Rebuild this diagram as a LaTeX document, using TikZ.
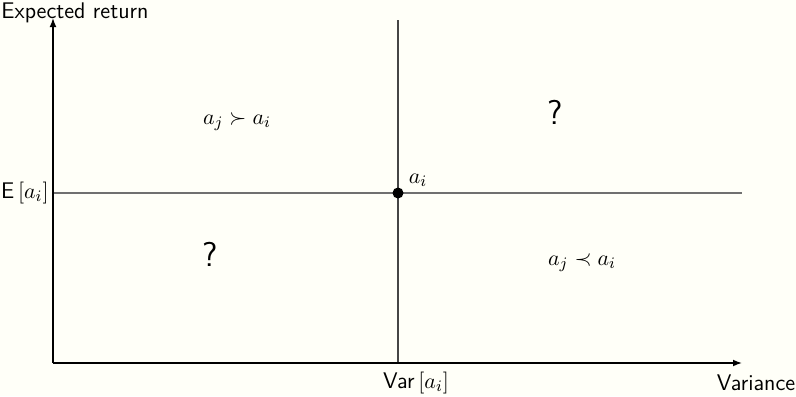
\documentclass[tikz,border=0pt]{standalone}
\usetikzlibrary{arrows.meta}
\definecolor{bgcol}{RGB}{255,255,248}
\definecolor{hgray}{RGB}{112,112,112}
\definecolor{vgray}{RGB}{70,70,70}
\begin{document}
\begin{tikzpicture}[x=0.5pt,y=-0.5pt,
  axis/.style={line width=0.7pt,-{Latex[length=4.5pt,width=3.4pt]}},
  refline/.style={line width=0.7pt},
  lbl/.style={inner sep=0pt,font=\fontsize{11.3}{13.5}\selectfont\sffamily},
  big/.style={inner sep=0pt,font=\sffamily\LARGE}]
\fill[bgcol] (0,0) rectangle (796,396);
\useasboundingbox (0,0) rectangle (796,396);
\coordinate (O) at (53,363);
\coordinate (Ytop) at (53,18);
\coordinate (Xend) at (742,363);
\coordinate (VT) at (398,20);
\coordinate (HL) at (53,193);
\coordinate (HR) at (742,193);
\coordinate (P) at (398,193);
\coordinate (VB) at (398,363);
\draw[refline,hgray] (HL) -- (HR);
\draw[refline,vgray] (VT) -- (VB);
\draw[axis] (O) -- (Ytop);
\draw[axis] (O) -- (Xend);
\fill (P) circle (5.5);
\node[lbl] (ylabel) at (75,13) {Expected return};
\node[lbl] (xlabel) at (756,383) {Variance};
\node[lbl,anchor=east] (elabel) at (49,193) {E\,$\left[a_i\right]$};
\node[lbl] (vlabel) at (416,383) {Var\,$\left[a_i\right]$};
\node[lbl] (ptlabel) at (418,180) {$a_i$};
\node[lbl] (better) at (237,122) {$a_j \succ a_i$};
\node[lbl] (worse) at (582,263) {$a_j \prec a_i$};
\node[big] (q1) at (555,112) {?};
\node[big] (q2) at (210,254) {?};
\end{tikzpicture}
\end{document}
